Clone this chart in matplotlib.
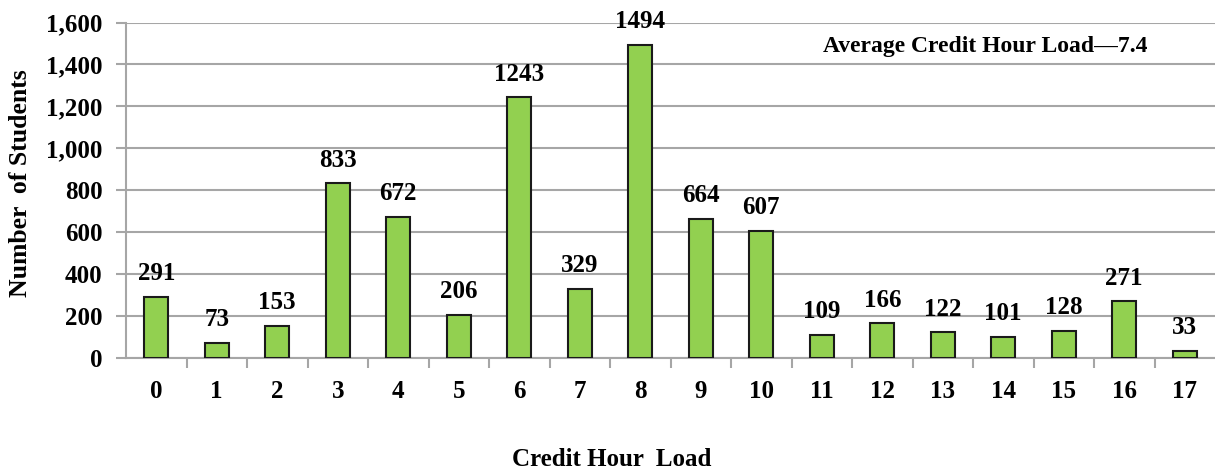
import matplotlib.pyplot as plt

plt.rcParams['font.family'] = ['Liberation Serif', 'DejaVu Serif']
plt.rcParams['font.weight'] = 'bold'

hours = list(range(18))
students = [291, 73, 153, 833, 672, 206, 1243, 329, 1494, 664, 607,
            109, 166, 122, 101, 128, 271, 33]
y_ticks = [0, 200, 400, 600, 800, 1000, 1200, 1400, 1600]
y_tick_labels = [f"{v:,}" for v in y_ticks]
average_note = "Average Credit Hour Load\u20147.4"

GRID = '#a6a6a6'


def main():
    fig = plt.figure(figsize=(12.15, 4.71), dpi=100)
    ax = fig.add_axes([126 / 1215, 1 - 358 / 471, 1 - 126 / 1215, (358 - 22.5) / 471])

    ax.bar(hours, students, width=0.4, color='#92d050', edgecolor='#1a1a1a',
           linewidth=1.5, zorder=3)
    for x, v in zip(hours, students):
        ax.annotate(str(v), (x, v), xytext=(0, 12), textcoords='offset points',
                    ha='center', va='baseline', fontsize=18, fontweight='bold')

    ax.set_xlim(-0.5, 17.5)
    ax.set_ylim(0, 1600)
    ax.set_yticks(y_ticks)
    ax.set_yticklabels(y_tick_labels)
    ax.set_xticks(hours)
    ax.set_xticklabels([str(h) for h in hours])
    # tick marks sit between the categories, labels in the middle
    ax.set_xticks([h + 0.5 for h in hours[:-1]], minor=True)
    ax.tick_params(axis='x', which='major', length=0, pad=16, labelsize=18)
    ax.tick_params(axis='x', which='minor', length=7, width=1.5, color=GRID)
    ax.tick_params(axis='y', length=7, width=1.5, color=GRID, pad=10, labelsize=18)

    ax.grid(axis='y', color=GRID, linewidth=1.5, zorder=0)
    for side in ['top', 'right']:
        ax.spines[side].set_visible(False)
    for side in ['left', 'bottom']:
        ax.spines[side].set_color(GRID)
        ax.spines[side].set_linewidth(1.5)

    fig.text(823 / 1215, 1 - 52 / 471, average_note, fontsize=17,
             fontweight='bold', ha='left', va='baseline')
    fig.text(612 / 1215, 1 - 466 / 471, "Credit Hour  Load", fontsize=18,
             fontweight='bold', ha='center', va='baseline')
    fig.text(21 / 1215, 1 - 183 / 471, "Number  of Students", fontsize=18.5,
             fontweight='bold', ha='center', va='center', rotation=90)

    fig.savefig('out.png', dpi=100)


if __name__ == '__main__':
    main()
